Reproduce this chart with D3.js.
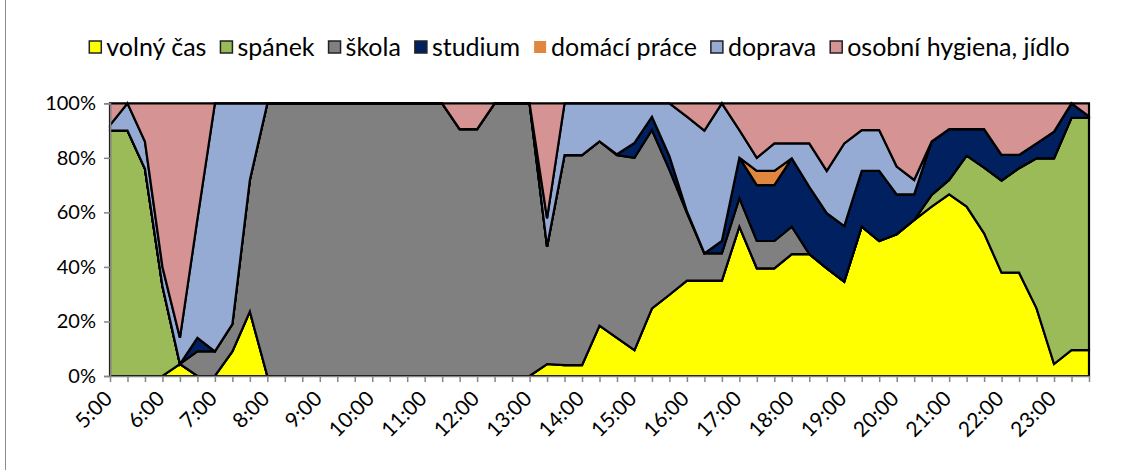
<!DOCTYPE html>
<html><head><meta charset="utf-8">
<script src="https://cdn.jsdelivr.net/npm/d3@7"></script>
<style>
body{margin:0;background:#fff}
svg{display:block}
text{font-family:Lato,"Open Sans",sans-serif;fill:#000}
</style>
</head><body>
<svg id="chart" width="1129" height="470"></svg>
<script>
// ---------- DATA ----------
const categories = ["5:00","5:20","5:40","6:00","6:20","6:40","7:00","7:20","7:40","8:00","8:20","8:40",
"9:00","9:20","9:40","10:00","10:20","10:40","11:00","11:20","11:40","12:00","12:20","12:40",
"13:00","13:20","13:40","14:00","14:20","14:40","15:00","15:20","15:40","16:00","16:20","16:40",
"17:00","17:20","17:40","18:00","18:20","18:40","19:00","19:20","19:40","20:00","20:20","20:40",
"21:00","21:20","21:40","22:00","22:20","22:40","23:00","23:20","23:40"];
const tickLabels = ["5:00","6:00","7:00","8:00","9:00","10:00","11:00","12:00","13:00","14:00","15:00",
"16:00","17:00","18:00","19:00","20:00","21:00","22:00","23:00"];
const seriesNames = ["volný čas","spánek","škola","studium","domácí práce","doprava","osobní hygiena, jídlo"];

const volnyCas = [0,0,0,0,4.4,0,0,9,23.6,0, 0,0,0,0,0,0,0,0,0,0, 0,0,0,0,0,4.4,4,4,18.5,14,
 9.5,24.8,29.8,35,35,35,54.8,39.5,39.5,44.7, 44.7,39.5,34.6,54.8,49.5,52,57.2,62.1,66.6,62.1,
 52.3,37.9,37.9,24.8,4.4,9.5,9.5];
const spanek = [90,90,76,33,0,0,0,0,0,0, 0,0,0,0,0,0,0,0,0,0, 0,0,0,0,0,0,0,0,0,0,
 0,0,0,0,0,0,0,0,0,0, 0,0,0,0,0,0,0,4.3,5.3,18.7, 24.1,33.7,38.3,55,75.4,85.2,85.2];
const skola = [0,0,0,0,0,9,9,10,48.3,100, 100,100,100,100,100,100,100,100,100,100, 90.5,90.5,100,100,100,43,77,77,67.5,67,
 70.5,65.4,45.8,24.8,10,10,10.4,10,10,10.1, 0,0,0,0,0,0,0,0,0,0, 0,0,0,0,0,0,0];
const studium = [0,0,0,0,0,5,0,0,0,0, 0,0,0,0,0,0,0,0,0,0, 0,0,0,0,0,0,0,0,0,0.3,
 5.5,4.9,5,0.6,0,4.5,14.9,20.5,20.5,25, 24.7,20.2,20.4,20.4,25.7,14.6,9.4,19.6,18.6,9.7,
 14.1,9.5,4.9,5.5,9.8,5.3,0.5];
const domaciPrace = [0,0,0,0,0,0,0,0,0,0, 0,0,0,0,0,0,0,0,0,0, 0,0,0,0,0,0,0,0,0,0,
 0,0,0,0,0,0,0,5.2,5.2,0, 0,0,0,0,0,0,0,0,0,0, 0,0,0,0,0,0,0];
const doprava = [2,10,10,7,9.6,43.5,91,81,28.1,0, 0,0,0,0,0,0,0,0,0,0, 0,0,0,0,0,10.4,19,19,14,18.7,
 14.5,4.9,19.4,34.7,45,50.5,10.1,4.8,10.1,5.5, 15.9,15.5,30.3,15,15,10.2,5.3,0,0,0,
 0,0,0,0,0,0,0];
const hygiena = [8,0,14,60,86,42.5,0,0,0,0, 0,0,0,0,0,0,0,0,0,0, 9.5,9.5,0,0,0,42.2,0,0,0,0,
 0,0,0,4.9,10,0,9.8,20,14.7,14.7, 14.7,24.8,14.7,9.8,9.8,23.2,28.1,14,9.5,9.5,
 9.5,18.9,18.9,14.7,10.4,0,4.8];
const yTicks = [0,0.2,0.4,0.6,0.8,1];

// ---------- STYLE ----------
const colors = ["#FFFF00","#9BBB59","#808080","#002060","#E0863F","#95ABD4","#D59394"];
const legendBorder = [true,true,true,true,false,true,true];

const seriesValues = [volnyCas,spanek,skola,studium,domaciPrace,doprava,hygiena];
const rows = categories.map((c,i)=>{
  const r = {cat:c};
  seriesNames.forEach((n,k)=>{ r[n] = seriesValues[k][i]; });
  return r;
});

const svg = d3.select("#chart");
const margin = {left:110, right:1089, top:103.3, bottom:376};

const x = d3.scalePoint().domain(categories).range([margin.left, margin.right]).padding(0);
const y = d3.scaleLinear().domain([0,1]).range([margin.bottom, margin.top]);

const stack = d3.stack().keys(seriesNames).offset(d3.stackOffsetExpand);
const layers = stack(rows);

const area = d3.area()
  .x(d=>x(d.data.cat))
  .y0(d=>y(d[0]))
  .y1(d=>y(d[1]));

// outer chart frame
svg.append("rect").attr("x",5.5).attr("y",-5).attr("width",1200).attr("height",480)
  .attr("fill","none").attr("stroke","#8c8c8c").attr("stroke-width",1);

svg.append("g").selectAll("path").data(layers).join("path")
  .attr("d",area)
  .attr("fill",(d,i)=>colors[i])
  .attr("stroke","#000")
  .attr("stroke-width",2.2)
  .attr("stroke-linejoin","miter");

// axes
const axisColor = "#868686";
const yAxis = d3.axisLeft(y).tickValues(yTicks).tickFormat(d3.format(".0%")).tickSize(6).tickPadding(8);
const gy = svg.append("g").attr("transform",`translate(${margin.left},0)`).call(yAxis);
gy.select(".domain").attr("stroke",axisColor).attr("stroke-width",1.5);
gy.selectAll(".tick line").attr("stroke",axisColor).attr("stroke-width",1.5);
gy.selectAll("text").style("font-size","20px").attr("fill","#000");

const xAxis = d3.axisBottom(x).tickSize(6).tickSizeOuter(0)
  .tickFormat(d=> tickLabels.includes(d) ? d : "");
const gx = svg.append("g").attr("transform",`translate(0,${margin.bottom})`).call(xAxis);
gx.select(".domain").attr("stroke",axisColor).attr("stroke-width",1.5);
gx.selectAll(".tick line").attr("stroke",axisColor).attr("stroke-width",1.5);
gx.selectAll("text").style("font-size","21px").attr("fill","#000")
  .attr("text-anchor","end")
  .attr("x",0).attr("y",0).attr("dy",0)
  .attr("transform","translate(3,24) rotate(-45)");

// legend
const lg = svg.append("g").attr("class","legend");
const legendY = 47, box = 12, gapText = 5, gapItem = 14;
let cx = 0;
seriesNames.forEach((n,i)=>{
  const g = lg.append("g");
  g.append("rect").attr("x",cx).attr("y",legendY-box/2).attr("width",box).attr("height",box)
    .attr("fill",colors[i])
    .attr("stroke",legendBorder[i] ? "#222" : "none").attr("stroke-width",1.5);
  const t = g.append("text").attr("x",cx+box+gapText).attr("y",legendY).attr("dy","0.36em")
    .style("font-size","25px").text(n);
  const w = t.node().getComputedTextLength();
  cx += box+gapText+w+gapItem;
});
const totalW = cx - gapItem;
lg.attr("transform",`translate(${579.5-totalW/2},0)`);
</script>
</body></html>
